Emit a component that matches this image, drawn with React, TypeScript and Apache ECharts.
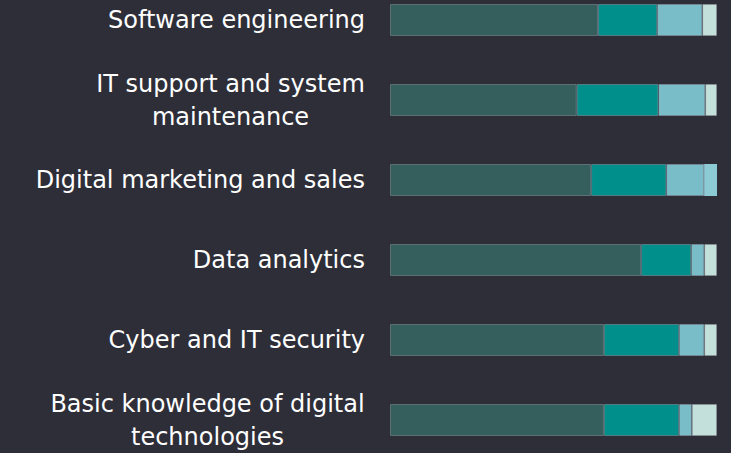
import React, { useEffect, useRef } from "react";
import * as echarts from "echarts";

const categories = [
  "Software engineering",
  "IT support and system\nmaintenance",
  "Digital marketing and sales",
  "Data analytics",
  "Cyber and IT security",
  "Basic knowledge of digital\ntechnologies",
];

const seriesA = [63.6, 57.1, 61.5, 76.8, 65.4, 65.4];
const seriesB = [18.1, 25.0, 23.0, 15.3, 23.0, 23.0];
const seriesC = [13.8, 14.3, 11.6, 4.0, 7.7, 3.9];
const seriesD = [4.5, 3.6, 0, 3.9, 3.9, 7.7];
const seriesE = [0, 0, 3.9, 0, 0, 0];

const colors = ["#355f5d", "#008f8b", "#79bdc8", "#c4e0da", "#8ccad4"];

const FONT_SIZE = 24;
const FONT_FAMILY = "DejaVu Sans";

function measure(text: string): number {
  const c = document.createElement("canvas");
  const ctx = c.getContext("2d");
  if (!ctx) return text.length * FONT_SIZE * 0.6;
  ctx.font = `${FONT_SIZE}px "${FONT_FAMILY}"`;
  return ctx.measureText(text).width;
}

export default function App() {
  const ref = useRef<HTMLDivElement>(null);
  useEffect(() => {
    if (!ref.current) return;
    const chart = echarts.init(ref.current, undefined, { renderer: "svg" });
    const border = { borderColor: "rgba(150,160,170,0.45)", borderWidth: 1 };
    const mk = (name: string, data: number[], color: string, withBorder = true) => ({
      name,
      type: "bar",
      stack: "total",
      data,
      barWidth: 32,
      itemStyle: withBorder ? { color, ...border } : { color },
      emphasis: { disabled: true },
    });
    chart.setOption({
      animation: false,
      backgroundColor: "#2e2e38",
      grid: { left: 390, right: 14, top: 20, bottom: 30 },
      xAxis: { type: "value", min: 0, max: 100, show: false },
      yAxis: {
        type: "category",
        data: categories,
        inverse: true,
        boundaryGap: false,
        axisLine: { show: false },
        axisTick: { show: false },
        splitLine: { show: false },
        axisLabel: {
          color: "#ffffff",
          fontSize: FONT_SIZE,
          fontFamily: FONT_FAMILY,
          lineHeight: 33,
          margin: 25,
          align: "right",
          formatter: (v: string) => {
            const lines = v.split("\n");
            if (lines.length === 1) return v;
            const w = Math.ceil(Math.max(...lines.map(measure)));
            return lines.map((l) => `{c${w}|${l}}`).join("\n");
          },
          rich: Object.fromEntries(
            categories
              .filter((c) => c.includes("\n"))
              .map((c) => {
                const w = Math.ceil(Math.max(...c.split("\n").map(measure)));
                return [
                  `c${w}`,
                  {
                    width: w,
                    align: "center",
                    color: "#ffffff",
                    fontSize: FONT_SIZE,
                    fontFamily: FONT_FAMILY,
                    lineHeight: 33,
                  },
                ];
              })
          ),
        },
      },
      series: [
        mk("Segment 1", seriesA, colors[0]),
        mk("Segment 2", seriesB, colors[1]),
        mk("Segment 3", seriesC, colors[2]),
        mk("Segment 4", seriesD, colors[3]),
        mk("Segment 5", seriesE, colors[4], false),
      ],
    });
    return () => chart.dispose();
  }, []);
  return <div ref={ref} style={{ width: 731, height: 453, position: "absolute", left: 0, top: 0 }} />;
}
